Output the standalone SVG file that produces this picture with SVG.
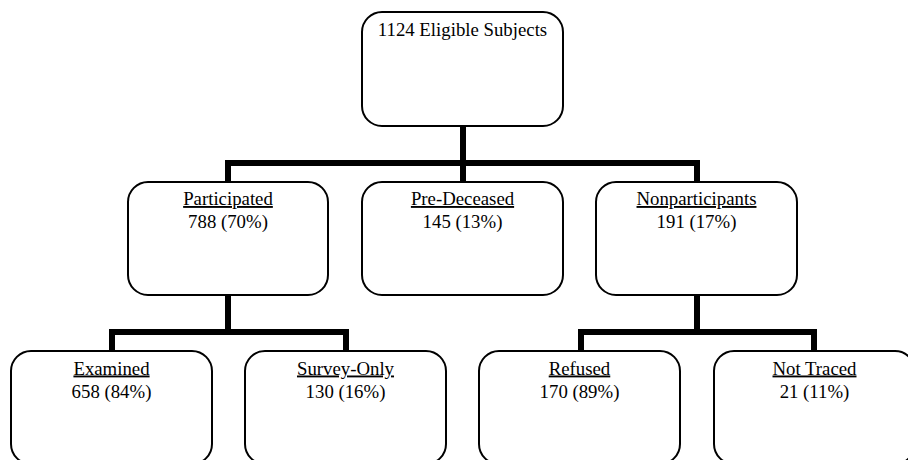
<svg xmlns="http://www.w3.org/2000/svg" width="908" height="460" viewBox="0 0 908 460">
<style>
.box{fill:#fff;stroke:#000;stroke-width:2}
.t{font-family:"Liberation Serif","Times New Roman",serif;font-size:18.8px;fill:#000;text-anchor:middle}
.u{text-decoration:underline}
.c{fill:none;stroke:#000;stroke-width:6;stroke-linejoin:miter;stroke-linecap:butt}
</style>
<rect width="908" height="460" fill="#fff"/>
<g id="connectors">
<path class="c" d="M463 126 V182"/>
<path class="c" d="M228 182 V163 H697 V182"/>
<path class="c" d="M228 295 V332"/>
<path class="c" d="M112 351 V332 H346 V351"/>
<path class="c" d="M697 295 V332"/>
<path class="c" d="M581 351 V332 H814 V351"/>
</g>
<g id="eligible">
<rect class="box" x="362" y="12" width="201" height="114" rx="20"/>
<text class="t" x="462.5" y="36">1124 Eligible Subjects</text>
</g>
<g id="participated">
<rect class="box" x="128" y="182" width="200" height="113" rx="20"/>
<text class="t u" x="228" y="205">Participated</text>
<text class="t" x="228" y="228">788 (70%)</text>
</g>
<g id="predeceased">
<rect class="box" x="362" y="182" width="201" height="113" rx="20"/>
<text class="t u" x="462.5" y="205">Pre-Deceased</text>
<text class="t" x="462.5" y="228">145 (13%)</text>
</g>
<g id="nonparticipants">
<rect class="box" x="596" y="182" width="201" height="113" rx="20"/>
<text class="t u" x="696.5" y="205">Nonparticipants</text>
<text class="t" x="696.5" y="228">191 (17%)</text>
</g>
<g id="examined">
<rect class="box" x="11" y="351" width="201" height="113" rx="20"/>
<text class="t u" x="111.5" y="374.5">Examined</text>
<text class="t" x="111.5" y="397.5">658 (84%)</text>
</g>
<g id="surveyonly">
<rect class="box" x="245" y="351" width="201" height="113" rx="20"/>
<text class="t u" x="345.5" y="374.5">Survey-Only</text>
<text class="t" x="345.5" y="397.5">130 (16%)</text>
</g>
<g id="refused">
<rect class="box" x="479" y="351" width="201" height="113" rx="20"/>
<text class="t u" x="579.5" y="374.5">Refused</text>
<text class="t" x="579.5" y="397.5">170 (89%)</text>
</g>
<g id="nottraced">
<rect class="box" x="714" y="351" width="201" height="113" rx="20"/>
<text class="t u" x="814.5" y="374.5">Not Traced</text>
<text class="t" x="814.5" y="397.5">21 (11%)</text>
</g>
</svg>
